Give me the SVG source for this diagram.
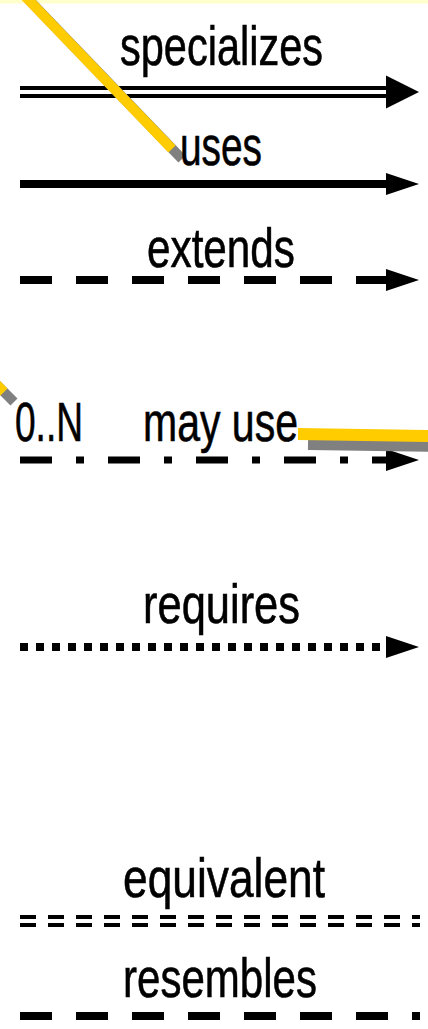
<svg xmlns="http://www.w3.org/2000/svg" width="428" height="1029" viewBox="0 0 428 1029">
  <style>
    .lbl { font-family: "Liberation Sans", "DejaVu Sans", sans-serif; font-size: 56px; fill: #000; stroke: #000; stroke-width: 0.6px; }
    .ln { fill: none; stroke: #000; stroke-linecap: butt; }
    .hl { fill: none; stroke: #ffcc00; stroke-linecap: butt; }
    .sh { fill: none; stroke: #808080; stroke-linecap: butt; }
  </style>
  <defs>
    <marker id="head" markerUnits="userSpaceOnUse" markerWidth="34" markerHeight="24" refX="0" refY="11" orient="auto" viewBox="0 0 34 24">
      <path d="M0,0 L33,11 L0,22 Z" fill="#000"/>
    </marker>
  </defs>

  <rect width="428" height="1029" fill="#fff"/>
  <!-- lower edge of the box above -->
  <rect id="top-box" x="0" y="0" width="428" height="3.5" fill="#ffffcc"/>

  <g id="connectors">
    <!-- specializes: double line -->
    <line class="ln" x1="20" y1="88" x2="388" y2="88" stroke-width="4"/>
    <line class="ln" x1="20" y1="96" x2="388" y2="96" stroke-width="4"/>
    <path d="M386,75.5 L419,92 L386,108.5 Z" fill="#000"/>
    <!-- uses: solid -->
    <path class="ln" d="M20,184 H386" stroke-width="8" marker-end="url(#head)"/>
    <!-- extends: dashed -->
    <path class="ln" d="M20,280 H386" stroke-width="8" stroke-dasharray="32 24" marker-end="url(#head)"/>
    <!-- may use: dash-dot -->
    <path class="ln" d="M20,460 H386" stroke-width="7" stroke-dasharray="32 24 8 24" marker-end="url(#head)"/>
    <!-- requires: dotted -->
    <path class="ln" d="M20,647 H386" stroke-width="8" stroke-dasharray="8 8" marker-end="url(#head)"/>
    <!-- equivalent: double dashed -->
    <path class="ln" d="M20,917 H420" stroke-width="4" stroke-dasharray="16 12"/>
    <path class="ln" d="M20,925 H420" stroke-width="4" stroke-dasharray="16 12"/>
    <!-- resembles: dashed, no head -->
    <path class="ln" d="M20,1016 H420" stroke-width="8" stroke-dasharray="32 24"/>

    <!-- highlighted links with drop shadow -->
    <line class="sh" x1="29" y1="0" x2="182" y2="159" stroke-width="10"/>
    <line class="hl" x1="19" y1="-10" x2="172" y2="149" stroke-width="10"/>

    <line class="sh" x1="-10" y1="378" x2="14" y2="402" stroke-width="10"/>
    <line class="hl" x1="-20" y1="368" x2="4" y2="392" stroke-width="10"/>

    <line class="sh" x1="308" y1="444" x2="440" y2="446" stroke-width="12"/>
    <line class="hl" x1="298" y1="434" x2="430" y2="436" stroke-width="12"/>
  </g>

  <g id="label-specializes"><text class="lbl" x="120" y="65" textLength="203" lengthAdjust="spacingAndGlyphs">specializes</text></g>
  <g id="label-uses"><text class="lbl" x="180" y="165" textLength="82" lengthAdjust="spacingAndGlyphs">uses</text></g>
  <g id="label-extends"><text class="lbl" x="147" y="267" textLength="148" lengthAdjust="spacingAndGlyphs">extends</text></g>
  <g id="label-card"><text class="lbl" x="15" y="441" textLength="68" lengthAdjust="spacingAndGlyphs">0..N</text></g>
  <g id="label-may-use"><text class="lbl" x="143" y="441" textLength="155" lengthAdjust="spacingAndGlyphs">may use</text></g>
  <g id="label-requires"><text class="lbl" x="143" y="623" textLength="157" lengthAdjust="spacingAndGlyphs">requires</text></g>
  <g id="label-equivalent"><text class="lbl" x="123" y="897" textLength="202" lengthAdjust="spacingAndGlyphs">equivalent</text></g>
  <g id="label-resembles"><text class="lbl" x="123" y="997" textLength="194" lengthAdjust="spacingAndGlyphs">resembles</text></g>
</svg>
